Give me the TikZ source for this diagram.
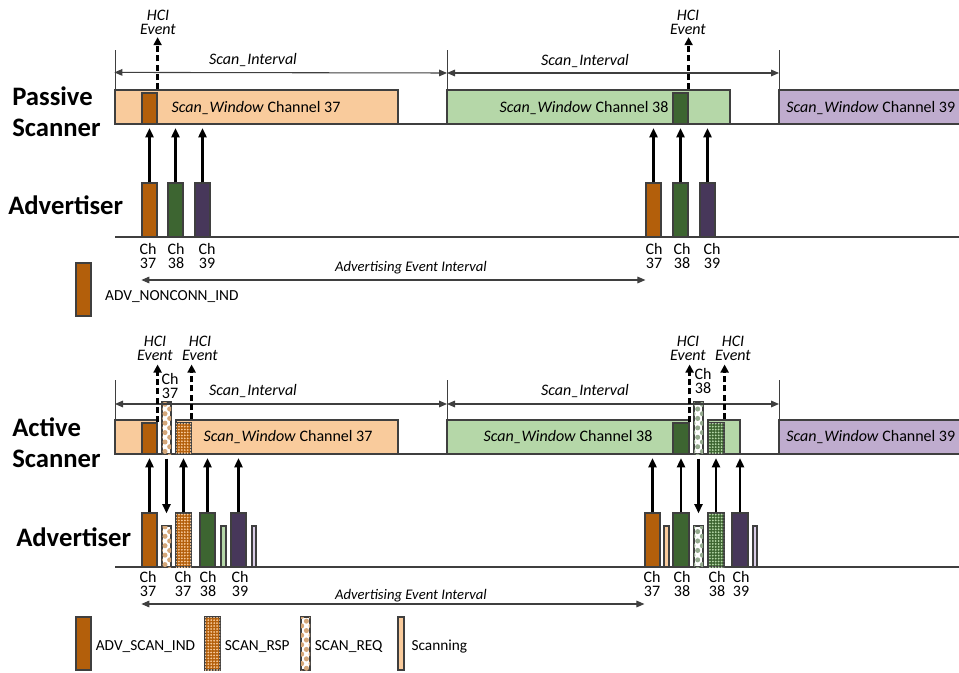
\documentclass[tikz,border=0pt]{standalone}
\usepackage{fontspec}
\setmainfont{Carlito}
\usetikzlibrary{arrows.meta,positioning,calc,fit,patterns,patterns.meta}
\definecolor{Edge}{HTML}{3F3F3F}
\definecolor{Rust}{HTML}{B35F0B}
\definecolor{RustSoft}{HTML}{F9CB9C}
\definecolor{Leaf}{HTML}{3D6531}
\definecolor{LeafSoft}{HTML}{B5D7A8}
\definecolor{Plum}{HTML}{47375A}
\definecolor{PlumSoft}{HTML}{BFACCE}
\definecolor{PlumPale}{HTML}{D9CCE6}
\tikzset{
  win/.style={draw=Edge,fill=#1,line width=.9pt,inner sep=0pt},
  pkt/.style={draw=Edge,fill=#1,line width=.9pt,inner sep=0pt},
  rsp/.style={pkt=#1,postaction={pattern={Dots[distance=2.2pt,radius=.75pt]},pattern color=#1Soft}},
  req/.style={pkt=white,postaction={pattern={Dots[distance=5pt,radius=1.9pt,angle=45]},pattern color=#1!55}},
  role/.style={font=\fontsize{20}{23}\selectfont\bfseries,align=left,inner sep=0pt,anchor=west},
  chan/.style={font=\fontsize{12}{10.5}\selectfont,align=center,inner sep=0pt},
  note/.style={font=\fontsize{12}{10.5}\selectfont\itshape,align=center,inner sep=0pt},
  tag/.style={font=\fontsize{11.5}{13}\selectfont,inner sep=0pt},
  wtext/.style={font=\fontsize{12}{14}\selectfont,inner sep=0pt},
  sig/.style={-{Triangle[length=7pt,width=6pt]},line width=1.8pt,draw=black},
  hci/.style={-{Triangle[length=6pt,width=6pt]},line width=2pt,dash pattern=on 4.5pt off 2.5pt},
  ivl/.style={{Triangle[length=6pt,width=5pt]}-{Triangle[length=6pt,width=5pt]},line width=.8pt,draw=Edge},
  track/.style={draw=Edge,line width=1pt}
}
\begin{document}
\begin{tikzpicture}[x=.75pt,y=-.75pt]
  \useasboundingbox (0,0) rectangle (959,673);
  \clip (0,0) rectangle (959,673);

  % passive scanner
  \coordinate (pscan) at (115,124);
  \coordinate (padv) at (115,237);
  \coordinate (pspan) at (0,280);
  \node[role] (passive) at (12,112) {Passive\\Scanner};
  \node[role] (padvr) at (8,205) {Advertiser};
  \draw[track] (pscan) -- (959,124);
  \draw[track] (padv) -- (959,237);
  \node[win=RustSoft,fit={(115,90)(398,124)}] (pw37) {};
  \node[win=LeafSoft,fit={(447,90)(730,124)}] (pw38) {};
  \node[win=PlumSoft,fit={(779,90)(1000,124)}] (pw39) {};
  \node[wtext] at (256,108) {\textit{Scan\_Window} Channel 37};
  \node[wtext] at (584,108) {\textit{Scan\_Window} Channel 38};
  \node[wtext,anchor=west] at (786,108) {\textit{Scan\_Window} Channel 39};
  \node[pkt=Rust,fit={(142,93)(157,124)}] (q1) {};
  \node[pkt=Leaf,fit={(673,93)(688,124)}] (q2) {};
  \foreach \x in {115,447,779}
    \draw[track,line width=.7pt] (\x,124) -- (\x,50);
  \node[note] (psi1) at (253,60) {Scan\_Interval};
  \node[note] (psi2) at (585,61) {Scan\_Interval};
  \draw[ivl] (pw37.north west) ++(0,-17) -- (447,73);
  \draw[ivl] (447,73) -- (779,73);
  \node[note] (phci1) at (158,22) {HCI\\Event};
  \node[note] (phci2) at (688,22) {HCI\\Event};
  \draw[hci,shorten >=2pt] (q1.north east |- pw37.north) -- (q1.north east |- phci1.south);
  \draw[hci,shorten >=2pt] (q2.north east |- pw38.north) -- (q2.north east |- phci2.south);
  \foreach \nm/\x/\c in {a/142/Rust,b/168/Leaf,c/195/Plum,d/646/Rust,e/673/Leaf,f/700/Plum}
    \node[pkt=\c,fit={(\x,183)(\x+15,237)}] (p\nm) {};
  \foreach \nm in {a,b,c,d,e,f}
    \draw[sig,shorten >=3pt] (p\nm.north) -- (p\nm.north |- pscan);
  \foreach \x/\n in {148/37,176/38,207/39,654/37,682/38,712/39}
    \node[chan] at (\x,256) {Ch\\\n};
  \draw[ivl] (pa.west |- pspan) -- (pd.west |- pspan);
  \node[note,font=\fontsize{11}{13}\selectfont\itshape] at (411,268) {Advertising Event Interval};
  \node[pkt=Rust,fit={(76,263)(91,316)}] (lg0) {};
  \node[tag,right=10pt of lg0,yshift=-5pt] {ADV\_NONCONN\_IND};

  % active scanner
  \coordinate (ascan) at (115,454);
  \coordinate (aadv) at (115,567);
  \coordinate (aspan) at (0,604);
  \node[role] (active) at (12,443) {Active\\Scanner};
  \node[role] (aadvr) at (16,537) {Advertiser};
  \draw[track] (ascan) -- (959,454);
  \draw[track] (aadv) -- (959,567);
  \node[win=RustSoft,fit={(115,420)(157,454)}] (aw37a) {};
  \node[win=RustSoft,fit={(176,420)(398,454)}] (aw37b) {};
  \node[win=LeafSoft,fit={(447,420)(689,454)}] (aw38a) {};
  \node[win=LeafSoft,fit={(708,420)(740,454)}] (aw38b) {};
  \node[win=PlumSoft,fit={(779,420)(1000,454)}] (aw39) {};
  \node[wtext] at (288,437) {\textit{Scan\_Window} Channel 37};
  \node[wtext] at (568,437) {\textit{Scan\_Window} Channel 38};
  \node[wtext,anchor=west] at (786,437) {\textit{Scan\_Window} Channel 39};
  \node[pkt=Rust,fit={(142,423)(157,454)}] (s1) {};
  \node[req=Rust,fit={(162,402)(171,454)}] (s2) {};
  \node[rsp=Rust,fit={(176,423)(191,454)}] (s3) {};
  \node[pkt=Leaf,fit={(673,423)(689,454)}] (s4) {};
  \node[req=Leaf,fit={(694,402)(703,454)}] (s5) {};
  \node[rsp=Leaf,fit={(708,423)(724,454)}] (s6) {};
  \foreach \x in {115,447,779}
    \draw[track,line width=.7pt] (\x,454) -- (\x,380);
  \node[note] (asi1) at (253,391) {Scan\_Interval};
  \node[note] (asi2) at (585,391) {Scan\_Interval};
  \draw[ivl] (115,404) -- (447,404);
  \draw[ivl] (447,404) -- (779,404);
  \node[chan] (rq1) at (170,386) {Ch\\37};
  \node[chan] (rq2) at (703,381) {Ch\\38};
  \node[note] (ahci1) at (155,348) {HCI\\Event};
  \node[note] (ahci2) at (200,348) {HCI\\Event};
  \node[note] (ahci3) at (688,348) {HCI\\Event};
  \node[note] (ahci4) at (733,348) {HCI\\Event};
  \draw[hci,shorten >=3pt] (s1.north east) -- (s1.north east |- ahci1.south);
  \draw[hci,shorten >=3pt] (s3.north east |- aw37b.north) -- (s3.north east |- ahci2.south);
  \draw[hci,shorten >=3pt] (s4.north east) -- (s4.north east |- ahci3.south);
  \draw[hci,shorten >=3pt] (s6.north east |- aw38b.north) -- (s6.north east |- ahci4.south);
  % advertiser bursts
  \node[pkt=Rust,fit={(142,513)(157,567)}] (a1) {};
  \node[req=Rust,fit={(162,526)(171,567)}] (a2) {};
  \node[rsp=Rust,fit={(176,513)(191,567)}] (a3) {};
  \node[pkt=Leaf,fit={(200,513)(215,567)}] (a4) {};
  \node[pkt=LeafSoft,fit={(221,526)(226,567)}] (a5) {};
  \node[pkt=Plum,fit={(231,513)(246,567)}] (a6) {};
  \node[pkt=PlumPale,fit={(252,526)(256,567)}] (a7) {};
  \node[pkt=Rust,fit={(645,513)(660,567)}] (b1) {};
  \node[pkt=RustSoft,fit={(664,526)(669,567)}] (b2) {};
  \node[pkt=Leaf,fit={(673,513)(689,567)}] (b3) {};
  \node[req=Leaf,fit={(694,526)(703,567)}] (b4) {};
  \node[rsp=Leaf,fit={(708,513)(724,567)}] (b5) {};
  \node[pkt=Plum,fit={(732,513)(748,567)}] (b6) {};
  \node[pkt=PlumPale,fit={(753,526)(757,567)}] (b7) {};
  \foreach \nm in {a1,a3,a4,a6,b1,b3,b5,b6}
    \draw[sig,shorten >=3pt] (\nm.north) -- (\nm.north |- ascan);
  \draw[sig,shorten <=3pt,shorten >=9pt] (s2.south) -- (a2.north);
  \draw[sig,shorten <=3pt,shorten >=9pt] (s5.south) -- (b4.north);
  \foreach \x/\n in {148/37,183/37,208/38,240/39,652/37,682/38,717/38,741/39}
    \node[chan] at (\x,584) {Ch\\\n};
  \draw[ivl] (a1.west |- aspan) -- (b1.west |- aspan);
  \node[note,font=\fontsize{11}{13}\selectfont\itshape] at (411,596) {Advertising Event Interval};
  % legend
  \node[pkt=Rust,fit={(76,617)(91,670)}] (lg1) {};
  \node[tag,right=3pt of lg1,yshift=-2pt] {ADV\_SCAN\_IND};
  \node[rsp=Rust,fit={(205,617)(220,670)}] (lg2) {};
  \node[tag,right=3pt of lg2,yshift=-2pt] {SCAN\_RSP};
  \node[req=Rust,fit={(301,617)(310,670)}] (lg3) {};
  \node[tag,right=3pt of lg3,yshift=-2pt] {SCAN\_REQ};
  \node[pkt=RustSoft,fit={(398,617)(404,670)}] (lg4) {};
  \node[tag,right=5pt of lg4,yshift=-2pt] {Scanning};
\end{tikzpicture}
\end{document}
